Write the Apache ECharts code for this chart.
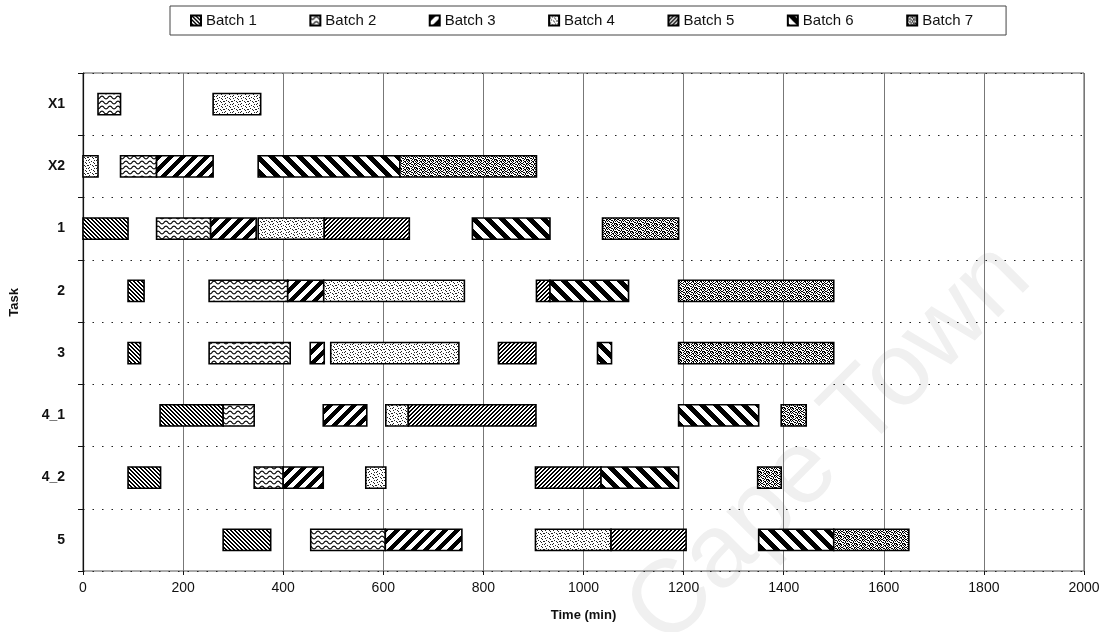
<!DOCTYPE html>
<html>
<head>
<meta charset="utf-8">
<script src="https://cdn.jsdelivr.net/npm/echarts@6/dist/echarts.min.js"></script>
<style>
html,body{margin:0;padding:0;background:#fff;}
#chart{width:1112px;height:632px;}
</style>
</head>
<body>
<div id="chart"></div>
<script>
// ---- data ----
const tasks = ['X1', 'X2', '1', '2', '3', '4_1', '4_2', '5'];
const batchNames = ['Batch 1', 'Batch 2', 'Batch 3', 'Batch 4', 'Batch 5', 'Batch 6', 'Batch 7'];
const xTicks = [0, 200, 400, 600, 800, 1000, 1200, 1400, 1600, 1800, 2000];
// [task, start (min), end (min)]
const batch1 = [['1', 0, 90], ['2', 90, 122], ['3', 90, 115], ['4_1', 154, 280], ['4_2', 90, 155], ['5', 280, 375]];
const batch2 = [['X1', 30, 75], ['X2', 75, 147], ['1', 147, 255], ['2', 252, 409], ['3', 252, 414], ['4_1', 280, 342], ['4_2', 342, 400], ['5', 455, 604]];
const batch3 = [['X2', 147, 260], ['1', 255, 346], ['2', 409, 481], ['3', 454, 482], ['4_1', 480, 567], ['4_2', 400, 480], ['5', 604, 757]];
const batch4 = [['X1', 260, 355], ['X2', 0, 30], ['1', 350, 482], ['2', 481, 762], ['3', 495, 751], ['4_1', 605, 650], ['4_2', 565, 605], ['5', 904, 1055]];
const batch5 = [['1', 482, 652], ['2', 906, 933], ['3', 830, 905], ['4_1', 650, 905], ['4_2', 904, 1035], ['5', 1055, 1205]];
const batch6 = [['X2', 350, 633], ['1', 778, 933], ['2', 933, 1090], ['3', 1028, 1056], ['4_1', 1190, 1350], ['4_2', 1035, 1190], ['5', 1350, 1500]];
const batch7 = [['X2', 633, 906], ['1', 1038, 1190], ['2', 1190, 1500], ['3', 1190, 1500], ['4_1', 1395, 1445], ['4_2', 1348, 1395], ['5', 1500, 1650]];
const batches = [batch1, batch2, batch3, batch4, batch5, batch6, batch7];

// ---- hatch patterns ----
function tile(w, h, draw) {
  const c = document.createElement('canvas');
  c.width = w; c.height = h;
  const ctx = c.getContext('2d');
  ctx.fillStyle = '#fff';
  ctx.fillRect(0, 0, w, h);
  ctx.fillStyle = '#000';
  ctx.strokeStyle = '#000';
  draw(ctx, w, h);
  return { image: c, repeat: 'repeat' };
}
function diag(s, w, forward) {
  return tile(s, s, (ctx) => {
    for (let y = 0; y < s; y++) {
      for (let x = 0; x < s; x++) {
        const v = forward ? (x + y) % s : ((x - y) % s + s) % s;
        if (v < w) ctx.fillRect(x, y, 1, 1);
      }
    }
  });
}
function bitmap(rows, color) {
  return tile(rows[0].length, rows.length, (ctx) => {
    ctx.fillStyle = color;
    rows.forEach((r, y) => { for (let x = 0; x < r.length; x++) if (r[x] === '#') ctx.fillRect(x, y, 1, 1); });
  });
}
const patterns = [
  diag(4, 2, false),                 // Batch 1: fine backslash
  tile(8, 5, (ctx) => {              // Batch 2: waves
    ctx.lineWidth = 1.1;
    ctx.beginPath();
    for (let x = -1; x <= 9; x += 0.5) {
      const y = 2.5 + 1.4 * Math.sin(x / 8 * Math.PI * 2);
      if (x === -1) ctx.moveTo(x, y); else ctx.lineTo(x, y);
    }
    ctx.stroke();
  }),
  diag(12, 6, true),                 // Batch 3: wide forward
  bitmap([                           // Batch 4: light stipple
    '#.....#.',
    '...#....',
    '.#...#..',
    '......#.',
    '..#.....',
    '#...#..#',
    '.....#..',
    '.#......'], '#222'),
  diag(4, 2, true),                  // Batch 5: fine forward
  diag(14, 7, false),                // Batch 6: wide backslash
  bitmap([                           // Batch 7: dense blotches
    '##.#..#.',
    '.#..##.#',
    '#..#.#..',
    '.##...##',
    '#..##.#.',
    '.#...#.#',
    '..##.#..',
    '#...#.##'], '#000')
];

function makeRender(pattern) {
  return function (params, api) {
    const cat = api.value(0);
    const s = api.coord([api.value(1), cat]);
    const e = api.coord([api.value(2), cat]);
    const h = api.size([0, 1])[1] * 0.34;
    const cs = params.coordSys;
    const rect = echarts.graphic.clipRectByRect(
      { x: s[0], y: s[1] - h / 2, width: e[0] - s[0], height: h },
      { x: cs.x, y: cs.y, width: cs.width, height: cs.height });
    return rect && {
      type: 'rect', shape: rect,
      style: { fill: pattern, stroke: '#000', lineWidth: 1.6 }
    };
  };
}

const chart = echarts.init(document.getElementById('chart'), null, { renderer: 'canvas' });
const font = 'Liberation Sans, Arial, sans-serif';
chart.setOption({
  animation: false,
  backgroundColor: '#fff',
  textStyle: { fontFamily: font },
  legend: {
    left: 170, top: 6,
    padding: [7, 33, 7, 20],
    borderColor: '#444', borderWidth: 1,
    itemWidth: 10, itemHeight: 10, itemGap: 52.5,
    icon: 'rect',
    textStyle: { fontSize: 15, color: '#111', fontFamily: font },
    data: batchNames
  },
  grid: { left: 83, right: 28, top: 73, bottom: 61, show: true, borderColor: '#555', borderWidth: 1 },
  xAxis: {
    type: 'value', min: xTicks[0], max: xTicks[xTicks.length - 1], interval: 200,
    name: 'Time (min)', nameLocation: 'middle', nameGap: 38,
    nameTextStyle: { fontSize: 13, fontWeight: 'bold', color: '#111', fontFamily: font },
    axisLine: { lineStyle: { color: '#111', width: 1.2 } },
    axisTick: { show: true, length: 4, lineStyle: { color: '#111' } },
    axisLabel: { fontSize: 14, color: '#111', margin: 10, fontFamily: font, formatter: (v) => String(v) },
    splitLine: { show: true, lineStyle: { color: '#777', width: 1 } }
  },
  yAxis: {
    type: 'category', data: tasks, inverse: true,
    axisLine: { lineStyle: { color: '#111', width: 1.2 } },
    axisTick: { show: true, length: 5, lineStyle: { color: '#111' } },
    axisLabel: { fontSize: 14, fontWeight: 'bold', color: '#111', margin: 18, fontFamily: font },
    splitLine: { show: true, lineStyle: { color: '#222', type: [1.5, 8], width: 1.2 } }
  },
  graphic: [
    {
      type: 'text', left: 8, top: 288, rotation: Math.PI / 2,
      style: { text: 'Task', font: 'bold 13px ' + font, fill: '#111' }
    },
    {
      type: 'text', x: 830, y: 445, rotation: Math.PI / 4, z: -10,
      style: { text: 'Cape Town', font: '104px ' + font, fill: '#f0f0f0', align: 'center', verticalAlign: 'middle' }
    }
  ],
  series: batches.map((b, i) => ({
    type: 'custom',
    name: batchNames[i],
    renderItem: makeRender(patterns[i]),
    itemStyle: { color: patterns[i], borderColor: '#000', borderWidth: 1 },
    encode: { y: 0, x: [1, 2] },
    data: b,
    z: 3
  }))
});
</script>
</body>
</html>
